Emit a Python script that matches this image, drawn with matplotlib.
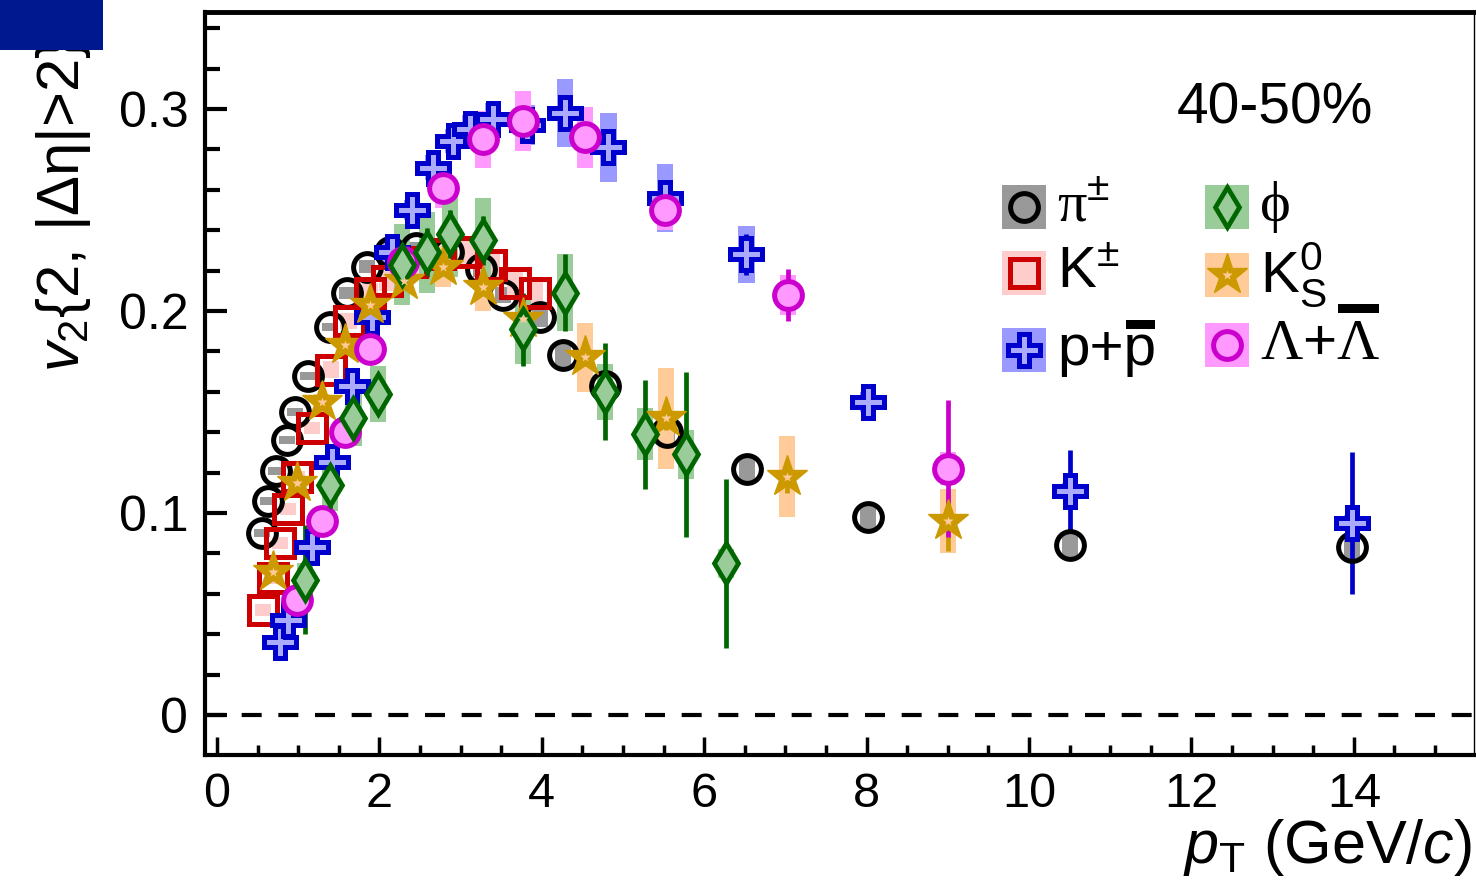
import matplotlib
matplotlib.use('Agg')
import matplotlib.pyplot as plt
from matplotlib.patches import Rectangle
from matplotlib.lines import Line2D
from matplotlib.ticker import MultipleLocator

plt.rcParams['font.family'] = ['Liberation Sans', 'DejaVu Sans']
plt.rcParams['mathtext.fontset'] = 'custom'
plt.rcParams['mathtext.rm'] = 'Liberation Sans'
plt.rcParams['mathtext.it'] = 'Liberation Sans:italic'

SERIF = ['Liberation Serif', 'DejaVu Serif']

# ── data: pT, v2, stat. error, syst. half-height ─────────────────────────────
pi_pt = [0.55, 0.63, 0.73, 0.86, 0.96, 1.12, 1.39, 1.60, 1.85, 2.13, 2.45,
         2.85, 3.25, 3.52, 3.98, 4.26, 4.78, 5.54, 6.53, 8.02, 10.5, 13.98]
pi_v2 = [0.090, 0.106, 0.121, 0.136, 0.150, 0.168, 0.192, 0.209, 0.222, 0.229,
         0.231, 0.229, 0.221, 0.208, 0.197, 0.178, 0.163, 0.140, 0.122, 0.098,
         0.084, 0.083]
pi_sys = [0.002, 0.002, 0.002, 0.002, 0.002, 0.002, 0.002, 0.003, 0.003, 0.003,
          0.003, 0.003, 0.004, 0.004, 0.005, 0.006, 0.006, 0.006, 0.006, 0.006,
          0.006, 0.006]

k_pt = [0.57, 0.69, 0.78, 0.87, 0.98, 1.17, 1.40, 1.62, 1.88, 2.09, 2.40, 2.75,
        3.08, 3.38, 3.67, 3.92]
k_v2 = [0.052, 0.068, 0.085, 0.102, 0.118, 0.142, 0.171, 0.195, 0.209, 0.215,
        0.224, 0.228, 0.229, 0.223, 0.214, 0.209]
k_sys = [0.003, 0.003, 0.003, 0.003, 0.003, 0.003, 0.004, 0.004, 0.005, 0.005,
         0.006, 0.006, 0.007, 0.007, 0.007, 0.007]

p_pt = [0.78, 0.87, 1.17, 1.42, 1.66, 1.91, 2.15, 2.40, 2.66, 2.91, 3.12, 3.40,
        3.82, 4.29, 4.82, 5.52, 6.52, 8.02, 10.5, 13.98]
p_v2 = [0.036, 0.047, 0.083, 0.125, 0.163, 0.197, 0.229, 0.250, 0.271, 0.284,
        0.290, 0.295, 0.292, 0.298, 0.281, 0.256, 0.228, 0.155, 0.111, 0.095]
p_stat = [0.002, 0.002, 0.002, 0.002, 0.002, 0.002, 0.002, 0.002, 0.002, 0.002,
          0.002, 0.002, 0.003, 0.004, 0.004, 0.005, 0.010, 0.009, 0.020, 0.035]
p_sys = [0.003, 0.003, 0.003, 0.003, 0.004, 0.004, 0.005, 0.005, 0.006, 0.006,
         0.007, 0.008, 0.010, 0.017, 0.017, 0.017, 0.014, 0.005, 0.004, 0.004]

ks_pt = [0.69, 0.98, 1.29, 1.58, 1.88, 2.30, 2.78, 3.28, 3.77, 4.53, 5.53,
         7.02, 9.0]
ks_v2 = [0.071, 0.115, 0.155, 0.183, 0.203, 0.215, 0.222, 0.212, 0.196, 0.177,
         0.147, 0.118, 0.096]
ks_stat = [0.001, 0.001, 0.001, 0.001, 0.001, 0.002, 0.002, 0.002, 0.003,
           0.004, 0.006, 0.008, 0.015]
ks_sys = [0.003, 0.003, 0.004, 0.004, 0.005, 0.006, 0.010, 0.012, 0.012, 0.017,
          0.025, 0.020, 0.016]

lam_pt = [0.98, 1.29, 1.58, 1.88, 2.29, 2.78, 3.28, 3.77, 4.53, 5.52, 7.03, 9.0]
lam_v2 = [0.057, 0.096, 0.140, 0.181, 0.224, 0.261, 0.285, 0.294, 0.286, 0.250,
          0.208, 0.122]
lam_stat = [0.002, 0.002, 0.002, 0.002, 0.002, 0.003, 0.003, 0.004, 0.005,
            0.007, 0.013, 0.034]
lam_sys = [0.003, 0.003, 0.004, 0.005, 0.008, 0.010, 0.014, 0.015, 0.015,
           0.010, 0.010, 0.008]

phi_pt = [1.08, 1.39, 1.68, 1.98, 2.28, 2.59, 2.87, 3.28, 3.77, 4.29, 4.78,
          5.27, 5.78, 6.27]
phi_v2 = [0.067, 0.114, 0.147, 0.159, 0.223, 0.229, 0.238, 0.235, 0.191, 0.209,
          0.160, 0.139, 0.129, 0.075]
phi_stat = [0.027, 0.014, 0.012, 0.010, 0.011, 0.012, 0.012, 0.012, 0.018,
            0.019, 0.024, 0.027, 0.041, 0.042]
phi_sys = [0.008, 0.013, 0.014, 0.014, 0.020, 0.020, 0.021, 0.021, 0.017,
           0.019, 0.014, 0.013, 0.012, 0.007]

W, H = 1476, 885
fig = plt.figure(figsize=(W / 100, H / 100), dpi=100)
ax = fig.add_axes([205 / W, 1 - 755 / H, 1269 / W, 743 / H])
ax.set_xlim(-0.148, 15.48)
ax.set_ylim(-0.0198, 0.348)

BOX_W = 0.2

# marker styles shared by plot and legend
STYLE = {
    'pi':  dict(marker='o', ms=20, mfc='none', mec='black', mew=3.6),
    'k':   dict(marker='s', ms=20, mfc='none', mec='#CC0000', mew=3.6),
    'p':   dict(marker='P', ms=23, mfc='#AAAAFF', mec='#0000CC', mew=3.6),
    'ks':  dict(marker='*', ms=31, mfc='#CC9900', mec='#CC9900', mew=1.0),
    'lam': dict(marker='o', ms=20, mfc='#FF99FF', mec='#CC00CC', mew=3.6),
    'phi': dict(marker='d', ms=20, mfc='#99CC99', mec='#006600', mew=3.4),
}


def series(x, y, stat, sys, color, box_color, style):
    for xi, yi, si in zip(x, y, sys):
        ax.add_patch(Rectangle((xi - BOX_W / 2, yi - si), BOX_W, 2 * si,
                               facecolor=box_color, edgecolor='none', zorder=2))
    if stat is not None:
        ax.errorbar(x, y, yerr=stat, fmt='none', ecolor=color, elinewidth=3.4,
                    capsize=0, zorder=3)
    ax.plot(x, y, ls='none', zorder=4, **style)


# ── species, drawn back to front ───────────────────────────────────────────
series(pi_pt, pi_v2, None, pi_sys, 'black', '#999999', STYLE['pi'])
series(k_pt, k_v2, None, k_sys, '#CC0000', '#FFCCCC', STYLE['k'])
series(p_pt, p_v2, p_stat, p_sys, '#0000CC', '#9999FF', STYLE['p'])
series(ks_pt, ks_v2, ks_stat, ks_sys, '#CC9900', '#FFCC99', STYLE['ks'])
ax.plot(ks_pt, ks_v2, ls='none', marker='*', ms=7, mfc='#FFCC99', mec='none',
        zorder=5)
series(lam_pt, lam_v2, lam_stat, lam_sys, '#CC00CC', '#FF99FF', STYLE['lam'])
series(phi_pt, phi_v2, phi_stat, phi_sys, '#006600', '#99CC99', STYLE['phi'])

ax.axhline(0, color='black', lw=3, ls=(0, (4.8, 4.0)), zorder=1)

# ── frame and ticks ────────────────────────────────────────────────────────
for side in ('left', 'bottom'):
    ax.spines[side].set_linewidth(3)
ax.spines['top'].set_linewidth(3.5)
ax.spines['right'].set_linewidth(1)

ax.xaxis.set_major_locator(MultipleLocator(2))
ax.xaxis.set_minor_locator(MultipleLocator(0.5))
ax.yaxis.set_minor_locator(MultipleLocator(0.02))
ax.set_yticks([0, 0.1, 0.2, 0.3])
ax.set_yticklabels(['0', '0.1', '0.2', '0.3'])
ax.tick_params(axis='y', which='major', direction='in', length=16, width=3,
               labelsize=36, pad=12)
ax.tick_params(axis='y', which='minor', direction='in', length=11, width=3)
ax.tick_params(axis='x', which='major', direction='in', length=13, width=2.5,
               labelsize=35, pad=12)
ax.tick_params(axis='x', which='minor', direction='in', length=7, width=2.5)

# ── axis titles ────────────────────────────────────────────────────────────
fig.text(64 / W, 1 - 38 / H, r'$v_{2}${2, |Δη|>2}', rotation=90,
         ha='center', va='top', fontsize=43)
fig.text(1472 / W, 1 - 848 / H, r'$p_{\mathrm{T}}$ (GeV/$c$)', ha='right',
         va='center', fontsize=44)
fig.text(1373 / W, 1 - 108 / H, '40-50%', ha='right', va='center',
         fontsize=41)

# ── legend ─────────────────────────────────────────────────────────────────
# (box centre x, y in pixels, box colour, style, label, family, bar lift)
leg_entries = [
    (1024, 207, '#999999', 'pi', r'π$^{\pm}$', SERIF, None),
    (1024, 273, '#FFCCCC', 'k', r'K$^{\pm}$', None, None),
    (1024, 350, '#9999FF', 'p', 'p+p', None, -6),
    (1227, 207, '#99CC99', 'phi', 'ϕ', SERIF, None),
    (1227, 275, '#FFCC99', 'ks', r'K$^{0}_{\mathrm{S}}$', None, None),
    (1227, 345, '#FF99FF', 'lam', r'Λ$+$Λ', SERIF, 6),
]
renderer = fig.canvas.get_renderer()
for cx, cy, bc, key, label, fam, lift in leg_entries:
    fig.add_artist(Rectangle(((cx - 22) / W, 1 - (cy + 22) / H), 44 / W,
                             44 / H, facecolor=bc, edgecolor='none',
                             transform=fig.transFigure))
    fig.add_artist(Line2D([cx / W], [1 - cy / H], ls='none',
                          transform=fig.transFigure, **STYLE[key]))
    if key == 'ks':
        fig.add_artist(Line2D([cx / W], [1 - cy / H], marker='*', ms=7,
                              mfc='#FFCC99', mec='none', ls='none',
                              transform=fig.transFigure))
    kw = dict(ha='left', va='center', fontsize=42)
    if fam:
        kw['family'] = fam
    t = fig.text((cx + 33) / W, 1 - cy / H, label, **kw)
    if lift is not None:
        # thick bar over the antiparticle symbol
        full = t.get_window_extent(renderer)
        head = fig.text(0, 0, label[:-1], **kw)
        w_head = head.get_window_extent(renderer).width
        head.remove()
        x0 = full.x0 + w_head + 2
        x1 = full.x1 - 1
        top = full.y1 + lift
        fig.add_artist(Rectangle((x0 / W, top / H), (x1 - x0) / W, 9 / H,
                                 facecolor='black', edgecolor='none',
                                 transform=fig.transFigure))

# corner tab
fig.add_artist(Rectangle((0, 1 - 50 / H), 103 / W, 50 / H,
                         facecolor='#00188F', edgecolor='none',
                         transform=fig.transFigure, zorder=10))

fig.savefig('out.png', dpi=100, facecolor='white')
